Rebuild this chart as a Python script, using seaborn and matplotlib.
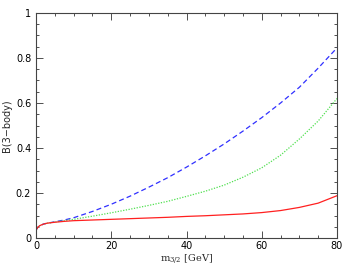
import numpy as np
import pandas as pd
import matplotlib
matplotlib.use('Agg')
import matplotlib.pyplot as plt
import seaborn as sns
from matplotlib.ticker import MultipleLocator

# values
m32 = [0, 0.5, 1, 2, 3, 5, 7.5, 10, 15, 20, 25, 30, 35, 40, 45, 50, 55, 60, 65, 70, 75, 80]
b_blue = [0.035, 0.048, 0.055, 0.062, 0.066, 0.072, 0.080, 0.090, 0.118, 0.150, 0.186, 0.226, 0.268, 0.315, 0.365, 0.418, 0.475, 0.535, 0.600, 0.670, 0.755, 0.845]
b_green = [0.035, 0.048, 0.055, 0.062, 0.066, 0.071, 0.077, 0.083, 0.097, 0.112, 0.128, 0.145, 0.163, 0.185, 0.208, 0.235, 0.270, 0.312, 0.368, 0.440, 0.520, 0.620]
b_red = [0.035, 0.048, 0.055, 0.062, 0.066, 0.070, 0.074, 0.077, 0.080, 0.083, 0.086, 0.089, 0.092, 0.096, 0.099, 0.103, 0.107, 0.113, 0.122, 0.136, 0.155, 0.188]

sns.set_style('ticks')
plt.rcParams['font.family'] = ['DejaVu Sans']
plt.rcParams['mathtext.fontset'] = 'dejavuserif'

fig = plt.figure(figsize=(3.59, 2.69), dpi=100)
ax = fig.add_axes([0.1003, 0.1152, 0.8384, 0.8365])

df = pd.DataFrame({'m': m32, 'blue': b_blue, 'green': b_green, 'red': b_red})
sns.lineplot(data=df, x='m', y='blue', ax=ax, color='#3030ff', lw=0.9)
ax.lines[-1].set_dashes([4, 2.5])
sns.lineplot(data=df, x='m', y='green', ax=ax, color='#50e050', lw=0.9)
ax.lines[-1].set_dashes([1, 1.2])
sns.lineplot(data=df, x='m', y='red', ax=ax, color='#ff2020', lw=0.9)

ax.set_xlim(0, 80)
ax.set_ylim(0, 1)
ax.xaxis.set_major_locator(MultipleLocator(20))
ax.xaxis.set_minor_locator(MultipleLocator(5))
ax.yaxis.set_major_locator(MultipleLocator(0.2))
ax.yaxis.set_minor_locator(MultipleLocator(0.05))
ax.set_yticks([0, 0.2, 0.4, 0.6, 0.8, 1.0])
ax.set_yticklabels(['0', '0.2', '0.4', '0.6', '0.8', '1'])
ax.tick_params(which='both', direction='in', top=True, right=True, labelsize=7, width=0.6, colors='#333333', labelcolor='black')
ax.tick_params(which='major', length=5)
ax.tick_params(which='minor', length=2.5)
ax.tick_params(axis='x', pad=2)
for s in ax.spines.values():
    s.set_linewidth(0.8)
    s.set_color('#444444')

ax.set_xlabel(r'$\mathrm{m}_{3/2}$ [GeV]', fontsize=7, labelpad=1, family='DejaVu Serif')
ax.set_ylabel('B(3\u2212body)', fontsize=7, labelpad=3)

fig.savefig('out.png', dpi=100)
